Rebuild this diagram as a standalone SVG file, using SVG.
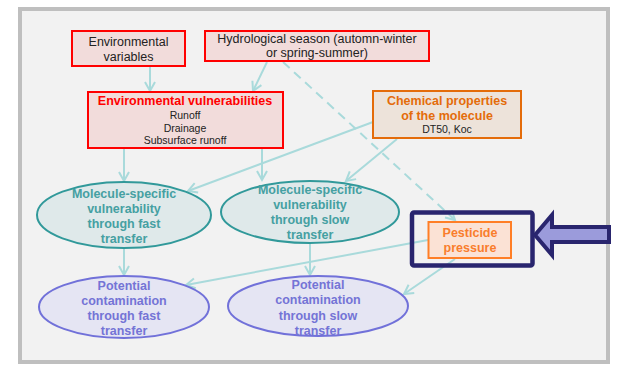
<svg xmlns="http://www.w3.org/2000/svg" width="617" height="365" viewBox="0 0 617 365">
<defs>
<marker id="ah" markerUnits="userSpaceOnUse" markerWidth="14" markerHeight="14" refX="10" refY="6" orient="auto" viewBox="0 0 14 12">
<path d="M1,1 L10,6 L1,11" fill="none" stroke="#a9dadb" stroke-width="2"/>
</marker>
<style>
text{font-family:"Liberation Sans",Arial,sans-serif;text-anchor:middle}
.red{fill:#f2dcdb;stroke:#ff0000;stroke-width:2}
.blk{font-size:12.5px;fill:#222}
.sm{font-size:10.5px;fill:#222}
.rt{font-size:12.5px;font-weight:bold;fill:#ff0000}
.ot{font-size:12.5px;font-weight:bold;fill:#e46c0a}
.te{fill:#dfe9ea;stroke:#31999a;stroke-width:2}
.tt{font-size:12.5px;font-weight:bold;fill:#45a0a2}
.pe{fill:#e5e5f3;stroke:#7171d9;stroke-width:2}
.pt{font-size:12.5px;font-weight:bold;fill:#7474d6}
.ln{stroke:#a9dadb;stroke-width:2;fill:none;marker-end:url(#ah)}
</style>
</defs>
<rect x="20" y="9" width="588" height="353" fill="#f2f2f2" stroke="#bfbfbf" stroke-width="4"/>

<g id="connectors">
<line class="ln" x1="150" y1="67" x2="150" y2="91"/>
<line class="ln" x1="267" y1="62" x2="253" y2="91"/>
<line class="ln" x1="283" y1="62" x2="455" y2="220" stroke-dasharray="9,6"/>
<line class="ln" x1="124" y1="149" x2="124" y2="181"/>
<line class="ln" x1="262" y1="149" x2="262" y2="180"/>
<line class="ln" x1="373" y1="122" x2="188" y2="191"/>
<line class="ln" x1="397" y1="139" x2="346" y2="181"/>
<line class="ln" x1="124" y1="249" x2="124" y2="275"/>
<line class="ln" x1="310" y1="244" x2="310" y2="275"/>
<line class="ln" x1="428" y1="240" x2="186" y2="285"/>
<line class="ln" x1="455" y1="259" x2="404" y2="294"/>
</g>

<g id="env-variables">
<rect class="red" x="72" y="31" width="113" height="35"/>
<text class="blk" x="128.5" y="46">Environmental</text>
<text class="blk" x="128.5" y="60.5">variables</text>
</g>

<g id="hydrological-season">
<rect class="red" x="205" y="31" width="224" height="30"/>
<text class="blk" x="317" y="43">Hydrological season (automn-winter</text>
<text class="blk" x="317" y="57">or spring-summer)</text>
</g>

<g id="env-vulnerabilities">
<rect class="red" x="88" y="92" width="195" height="56"/>
<text class="rt" x="185" y="105">Environmental vulnerabilities</text>
<text class="sm" x="185" y="119">Runoff</text>
<text class="sm" x="185" y="131.5">Drainage</text>
<text class="sm" x="185" y="144">Subsurface runoff</text>
</g>

<g id="chemical-properties">
<rect x="373" y="91" width="148" height="47" fill="#ede3da" stroke="#e46c0a" stroke-width="2"/>
<text class="ot" x="447" y="105">Chemical properties</text>
<text class="ot" x="447" y="119.5">of the molecule</text>
<text class="sm" x="447" y="133">DT50, Koc</text>
</g>

<g id="vuln-fast">
<ellipse class="te" cx="124" cy="215" rx="87" ry="33"/>
<text class="tt" x="124" y="197.5">Molecule-specific</text>
<text class="tt" x="124" y="212.5">vulnerability</text>
<text class="tt" x="124" y="227.5">through fast</text>
<text class="tt" x="124" y="242.5">transfer</text>
</g>

<g id="vuln-slow">
<ellipse class="te" cx="310" cy="212" rx="89" ry="31"/>
<text class="tt" x="310" y="193.5">Molecule-specific</text>
<text class="tt" x="310" y="208.5">vulnerability</text>
<text class="tt" x="310" y="224">through slow</text>
<text class="tt" x="310" y="239">transfer</text>
</g>

<g id="contam-fast">
<ellipse class="pe" cx="124" cy="307" rx="85" ry="31"/>
<text class="pt" x="124" y="289.5">Potential</text>
<text class="pt" x="124" y="304.5">contamination</text>
<text class="pt" x="124" y="319.5">through fast</text>
<text class="pt" x="124" y="334.5">transfer</text>
</g>

<g id="contam-slow">
<ellipse class="pe" cx="318" cy="306" rx="90" ry="30"/>
<text class="pt" x="318" y="288.5">Potential</text>
<text class="pt" x="318" y="304">contamination</text>
<text class="pt" x="318" y="319.5">through slow</text>
<text class="pt" x="318" y="334.5">transfer</text>
</g>

<g id="pesticide-pressure">
<rect x="412" y="212.5" width="120.5" height="53" rx="2" fill="none" stroke="#29256e" stroke-width="4.5"/>
<rect x="428.5" y="222" width="82.5" height="36" fill="#fbe2d5" stroke="#ff7f27" stroke-width="2"/>
<text x="470" y="237" style="font-size:12.5px;font-weight:bold;fill:#f97d2c">Pesticide</text>
<text x="470" y="252" style="font-size:12.5px;font-weight:bold;fill:#f97d2c">pressure</text>
</g>

<g id="highlight-arrow">
<polygon points="535,235 552,215 552,227 609,227 609,242 552,242 552,255" fill="#9b9bdb" stroke="#29256e" stroke-width="4" stroke-linejoin="miter"/>
</g>
</svg>
